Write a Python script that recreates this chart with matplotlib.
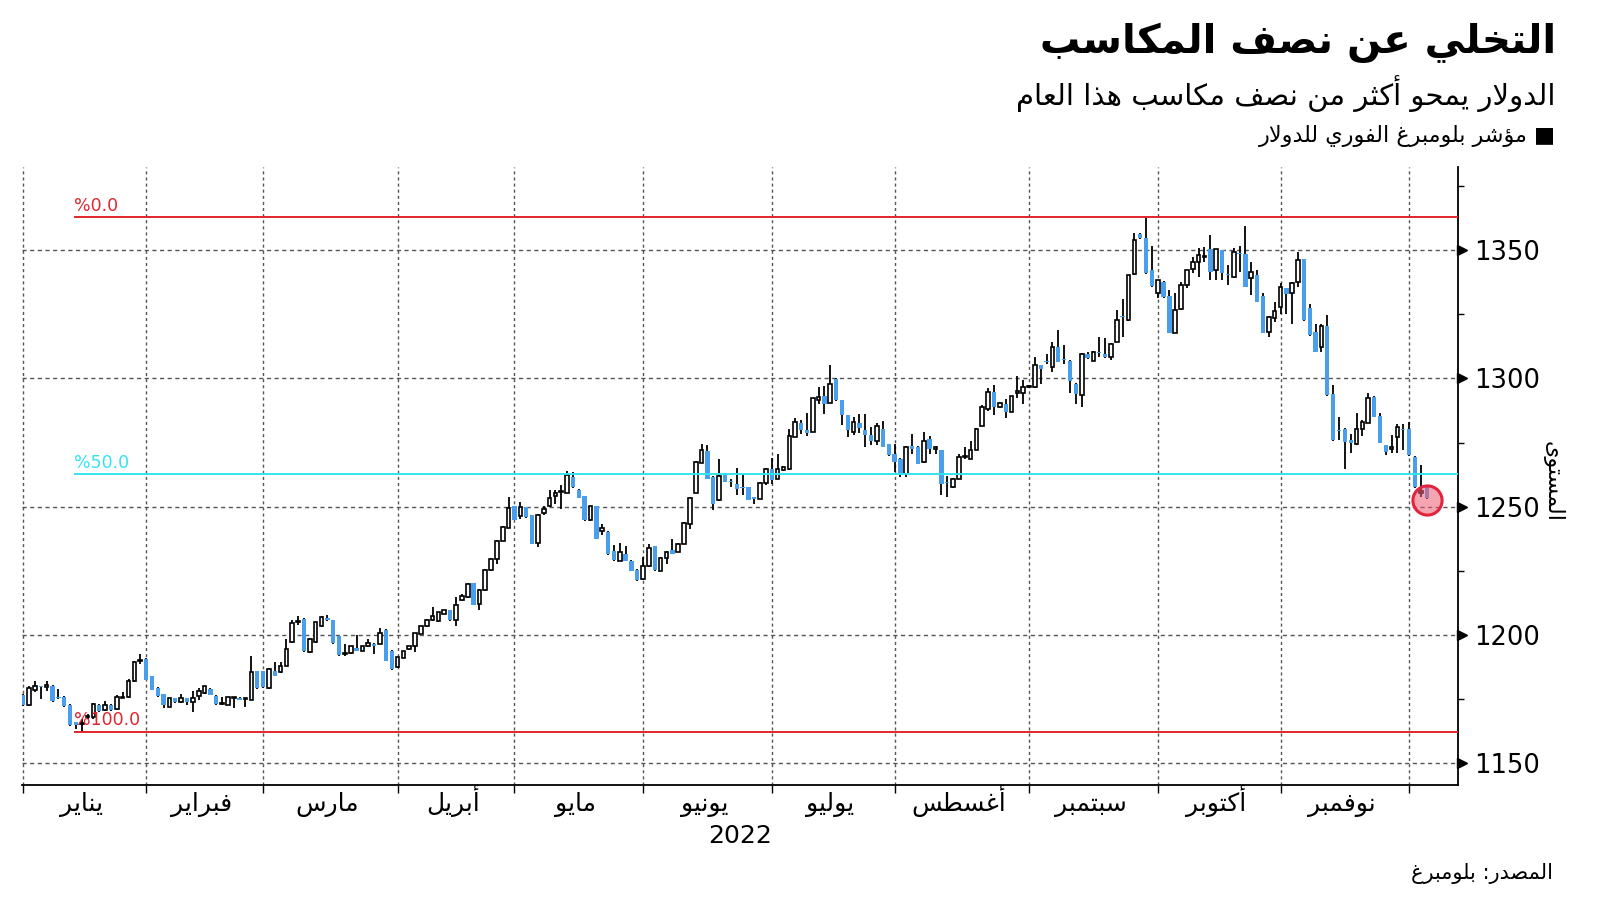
import numpy as np
import pandas as pd
import matplotlib
matplotlib.use("Agg")
import matplotlib.pyplot as plt
import matplotlib.transforms as mtransforms

# ---------------- Arabic shaping helper (matplotlib has no shaping) ----------------
FORMS = {
    'ء': ('\uFE80', None, None, None),
    'آ': ('\uFE81', '\uFE82', None, None),
    'أ': ('\uFE83', '\uFE84', None, None),
    'ؤ': ('\uFE85', '\uFE86', None, None),
    'إ': ('\uFE87', '\uFE88', None, None),
    'ئ': ('\uFE89', '\uFE8A', '\uFE8B', '\uFE8C'),
    'ا': ('\uFE8D', '\uFE8E', None, None),
    'ب': ('\uFE8F', '\uFE90', '\uFE91', '\uFE92'),
    'ة': ('\uFE93', '\uFE94', None, None),
    'ت': ('\uFE95', '\uFE96', '\uFE97', '\uFE98'),
    'ث': ('\uFE99', '\uFE9A', '\uFE9B', '\uFE9C'),
    'ج': ('\uFE9D', '\uFE9E', '\uFE9F', '\uFEA0'),
    'ح': ('\uFEA1', '\uFEA2', '\uFEA3', '\uFEA4'),
    'خ': ('\uFEA5', '\uFEA6', '\uFEA7', '\uFEA8'),
    'د': ('\uFEA9', '\uFEAA', None, None),
    'ذ': ('\uFEAB', '\uFEAC', None, None),
    'ر': ('\uFEAD', '\uFEAE', None, None),
    'ز': ('\uFEAF', '\uFEB0', None, None),
    'س': ('\uFEB1', '\uFEB2', '\uFEB3', '\uFEB4'),
    'ش': ('\uFEB5', '\uFEB6', '\uFEB7', '\uFEB8'),
    'ص': ('\uFEB9', '\uFEBA', '\uFEBB', '\uFEBC'),
    'ض': ('\uFEBD', '\uFEBE', '\uFEBF', '\uFEC0'),
    'ط': ('\uFEC1', '\uFEC2', '\uFEC3', '\uFEC4'),
    'ظ': ('\uFEC5', '\uFEC6', '\uFEC7', '\uFEC8'),
    'ع': ('\uFEC9', '\uFECA', '\uFECB', '\uFECC'),
    'غ': ('\uFECD', '\uFECE', '\uFECF', '\uFED0'),
    'ف': ('\uFED1', '\uFED2', '\uFED3', '\uFED4'),
    'ق': ('\uFED5', '\uFED6', '\uFED7', '\uFED8'),
    'ك': ('\uFED9', '\uFEDA', '\uFEDB', '\uFEDC'),
    'ل': ('\uFEDD', '\uFEDE', '\uFEDF', '\uFEE0'),
    'م': ('\uFEE1', '\uFEE2', '\uFEE3', '\uFEE4'),
    'ن': ('\uFEE5', '\uFEE6', '\uFEE7', '\uFEE8'),
    'ه': ('\uFEE9', '\uFEEA', '\uFEEB', '\uFEEC'),
    'و': ('\uFEED', '\uFEEE', None, None),
    'ى': ('\uFEEF', '\uFEF0', None, None),
    'ي': ('\uFEF1', '\uFEF2', '\uFEF3', '\uFEF4'),
}
LAM_ALEF = {'ا': ('\uFEFB', '\uFEFC'), 'أ': ('\uFEF7', '\uFEF8'),
            'إ': ('\uFEF9', '\uFEFA'), 'آ': ('\uFEF5', '\uFEF6')}


def ar(text):
    chars = list(text)
    toks = []
    i = 0
    while i < len(chars):
        ch = chars[i]
        if ch == 'ل' and i + 1 < len(chars) and chars[i + 1] in LAM_ALEF:
            toks.append(('LA', chars[i + 1]))
            i += 2
        else:
            toks.append(('C', ch))
            i += 1

    def jn(t):
        if t[0] == 'LA':
            return False
        f = FORMS.get(t[1])
        return f is not None and f[2] is not None

    def jp(t):
        if t[0] == 'LA':
            return True
        f = FORMS.get(t[1])
        return f is not None and f[1] is not None

    out = []
    for k, t in enumerate(toks):
        prev = toks[k - 1] if k > 0 else None
        nxt = toks[k + 1] if k + 1 < len(toks) else None
        cp = prev is not None and jn(prev) and jp(t)
        cn = nxt is not None and jn(t) and jp(nxt)
        if t[0] == 'LA':
            out.append(LAM_ALEF[t[1]][1 if cp else 0])
        elif t[1] in FORMS:
            f = FORMS[t[1]]
            if cp and cn:
                out.append(f[3])
            elif cp:
                out.append(f[1])
            elif cn:
                out.append(f[2])
            else:
                out.append(f[0])
        else:
            out.append(t[1])
    return ''.join(reversed(out))


# ---------------- Data ----------------
dates = pd.bdate_range("2022-01-03", "2022-12-06")
dates = dates[dates != pd.Timestamp("2022-04-15")]

opens = [1176.7, 1172.8, 1178.7, 1180.0, 1179.7, 1180.3, 1175.8, 1176.0, 1172.8, 1166.0,
         1165.3, 1168.0, 1168.0, 1172.6, 1171.0, 1172.6, 1171.3, 1175.6, 1175.8, 1182.0,
         1190.0, 1190.8, 1183.9, 1179.4, 1177.0, 1172.0, 1175.4, 1173.9, 1175.4, 1173.9,
         1176.4, 1177.4, 1179.1, 1176.4, 1173.2, 1172.8, 1175.6, 1175.6, 1175.1, 1174.8,
         1185.9, 1185.9, 1179.4, 1186.2, 1185.5, 1188.1, 1197.3, 1205.1, 1206.4, 1193.3,
         1197.3, 1203.4, 1206.6, 1205.7, 1199.5, 1192.7, 1193.0, 1194.9, 1194.0, 1195.7,
         1196.6, 1196.6, 1202.1, 1194.0, 1187.5, 1191.1, 1194.4, 1195.7, 1200.5, 1203.4,
         1205.7, 1205.4, 1208.3, 1209.6, 1205.7, 1213.5, 1214.8, 1220.3, 1212.2, 1217.4,
         1225.2, 1229.8, 1236.7, 1241.9, 1250.2, 1246.3, 1249.9, 1246.7, 1235.8, 1247.6,
         1250.2, 1254.1, 1255.8, 1255.4, 1261.6, 1256.7, 1254.1, 1244.7, 1250.2, 1240.6,
         1240.2, 1232.8, 1228.9, 1231.7, 1228.9, 1225.5, 1222.0, 1226.8, 1234.6, 1225.0,
         1230.2, 1233.3, 1232.4, 1235.6, 1243.4, 1255.4, 1267.1, 1271.8, 1261.6, 1252.5,
         1262.9, 1259.8, 1259.0, 1257.5, 1257.7, 1253.8, 1253.2, 1259.3, 1264.9, 1260.9,
         1264.2, 1264.6, 1277.2, 1282.7, 1280.1, 1279.2, 1291.5, 1293.1, 1290.5, 1299.6,
         1291.5, 1285.7, 1279.2, 1282.7, 1279.8, 1277.9, 1275.7, 1280.5, 1274.4, 1270.5,
         1268.8, 1262.9, 1273.6, 1273.3, 1267.4, 1276.6, 1272.7, 1272.0, 1259.7, 1257.7,
         1261.0, 1269.3, 1268.8, 1272.3, 1281.5, 1288.0, 1294.8, 1288.9, 1290.2, 1287.0,
         1294.5, 1294.4, 1296.7, 1296.5, 1305.2, 1306.8, 1304.5, 1312.3, 1307.1, 1306.9,
         1298.0, 1293.5, 1309.7, 1306.9, 1310.2, 1309.7, 1308.4, 1314.3, 1324.2, 1322.7,
         1340.7, 1356.3, 1354.6, 1342.2, 1333.1, 1337.7, 1332.1, 1317.8, 1326.9, 1336.4,
         1342.5, 1345.5, 1347.3, 1350.3, 1342.2, 1350.0, 1340.3, 1339.6, 1349.0, 1348.3,
         1339.0, 1340.3, 1332.1, 1318.2, 1323.7, 1327.7, 1335.1, 1333.4, 1337.7, 1346.4,
         1327.3, 1318.2, 1312.3, 1320.4, 1294.1, 1279.9, 1280.5, 1275.9, 1274.6, 1280.5,
         1282.7, 1292.8, 1285.3, 1274.0, 1272.6, 1277.0, 1280.4, 1280.5, 1269.4, 1255.4,
         1257.6]
highs = [1177.0, 1180.0, 1182.3, 1180.3, 1182.3, 1180.5, 1179.0, 1176.3, 1173.0, 1166.2,
         1167.3, 1169.3, 1173.5, 1173.0, 1174.3, 1173.0, 1176.5, 1177.8, 1183.0, 1190.0,
         1192.7, 1191.0, 1184.0, 1179.6, 1177.2, 1175.6, 1175.6, 1177.1, 1175.6, 1178.4,
         1179.4, 1180.3, 1179.3, 1176.6, 1175.8, 1176.0, 1175.9, 1175.8, 1175.4, 1192.0,
         1186.1, 1186.2, 1187.0, 1189.7, 1189.7, 1198.5, 1205.7, 1207.3, 1206.6, 1198.7,
         1205.3, 1207.5, 1207.7, 1205.9, 1199.7, 1196.6, 1195.9, 1200.2, 1195.9, 1198.5,
         1196.8, 1202.7, 1202.3, 1194.2, 1191.6, 1193.9, 1195.9, 1201.0, 1203.6, 1206.2,
         1210.9, 1209.2, 1209.8, 1209.8, 1214.8, 1216.1, 1220.2, 1220.5, 1217.9, 1225.7,
         1229.9, 1237.0, 1242.4, 1253.8, 1250.4, 1251.9, 1250.1, 1246.9, 1247.1, 1250.2,
         1256.4, 1256.4, 1258.4, 1264.0, 1263.6, 1256.9, 1254.3, 1250.4, 1250.4, 1243.2,
         1240.4, 1235.0, 1236.0, 1234.6, 1229.1, 1225.7, 1230.4, 1235.6, 1234.8, 1230.4,
         1232.6, 1237.6, 1235.8, 1243.9, 1253.8, 1267.7, 1274.4, 1274.0, 1261.8, 1268.8,
         1263.1, 1261.0, 1265.3, 1262.3, 1257.9, 1254.0, 1259.5, 1265.1, 1269.1, 1270.5,
         1265.7, 1280.5, 1284.4, 1283.7, 1286.6, 1292.4, 1296.5, 1297.0, 1305.2, 1300.1,
         1291.7, 1285.9, 1285.0, 1286.1, 1286.1, 1281.1, 1282.7, 1283.5, 1274.6, 1274.4,
         1269.0, 1273.5, 1278.5, 1273.5, 1279.2, 1277.5, 1273.5, 1272.2, 1261.9, 1261.2,
         1270.7, 1273.3, 1275.7, 1280.7, 1289.6, 1296.1, 1297.4, 1291.0, 1291.8, 1293.3,
         1301.0, 1299.3, 1297.5, 1308.4, 1305.4, 1309.7, 1314.3, 1318.8, 1313.0, 1307.1,
         1298.2, 1309.9, 1310.5, 1310.6, 1316.0, 1315.6, 1313.8, 1326.6, 1330.8, 1340.5,
         1356.5, 1356.5, 1362.8, 1351.6, 1338.5, 1337.9, 1334.4, 1333.1, 1337.7, 1342.4,
         1347.4, 1350.7, 1351.3, 1355.9, 1350.5, 1350.2, 1344.2, 1350.7, 1351.5, 1359.4,
         1345.5, 1342.2, 1333.4, 1324.2, 1329.9, 1337.0, 1335.3, 1337.5, 1349.4, 1346.6,
         1329.2, 1321.4, 1321.4, 1324.7, 1297.4, 1285.0, 1280.7, 1278.5, 1286.6, 1283.7,
         1294.4, 1293.0, 1286.6, 1274.2, 1277.9, 1282.4, 1282.4, 1283.1, 1269.6, 1266.2,
         1257.8]
lows = [1172.5, 1172.5, 1177.8, 1175.2, 1178.4, 1174.0, 1175.2, 1172.0, 1164.5, 1163.5,
        1162.4, 1167.3, 1167.5, 1170.0, 1170.5, 1170.5, 1171.0, 1175.4, 1175.5, 1181.8,
        1188.8, 1182.5, 1178.5, 1176.0, 1171.6, 1171.8, 1173.7, 1173.7, 1172.6, 1170.2,
        1174.8, 1177.1, 1176.5, 1172.8, 1172.6, 1172.6, 1171.6, 1174.6, 1171.9, 1174.6,
        1179.2, 1179.5, 1179.2, 1184.0, 1185.3, 1187.9, 1197.1, 1204.1, 1193.6, 1193.1,
        1197.1, 1203.2, 1205.5, 1196.7, 1191.9, 1191.7, 1192.8, 1193.8, 1193.8, 1195.5,
        1192.7, 1196.4, 1189.9, 1186.5, 1187.3, 1190.9, 1194.2, 1193.4, 1200.3, 1203.2,
        1205.5, 1205.2, 1208.1, 1205.5, 1203.4, 1213.3, 1214.6, 1211.6, 1209.9, 1217.2,
        1225.0, 1227.8, 1236.5, 1241.7, 1244.8, 1245.4, 1245.8, 1235.4, 1234.3, 1246.7,
        1249.9, 1251.2, 1249.3, 1255.2, 1257.5, 1253.4, 1244.5, 1244.5, 1237.4, 1238.9,
        1231.3, 1228.9, 1228.7, 1228.7, 1224.8, 1221.2, 1221.6, 1226.6, 1225.0, 1224.8,
        1227.8, 1231.5, 1232.2, 1235.4, 1241.5, 1255.2, 1266.9, 1260.8, 1248.9, 1252.3,
        1259.5, 1257.7, 1254.5, 1254.5, 1252.6, 1251.0, 1253.0, 1258.5, 1259.0, 1260.7,
        1263.8, 1264.4, 1277.0, 1278.5, 1277.5, 1279.0, 1290.0, 1286.3, 1290.3, 1291.3,
        1281.8, 1277.0, 1277.9, 1278.8, 1273.3, 1274.0, 1274.0, 1273.1, 1269.9, 1263.6,
        1261.6, 1261.6, 1270.7, 1266.6, 1267.2, 1270.7, 1270.7, 1254.5, 1253.8, 1257.5,
        1260.8, 1268.8, 1268.6, 1272.1, 1281.3, 1287.4, 1285.7, 1288.5, 1284.4, 1286.8,
        1292.2, 1290.2, 1296.2, 1296.3, 1298.0, 1305.6, 1302.6, 1306.3, 1305.8, 1294.4,
        1290.2, 1288.9, 1307.6, 1306.7, 1308.4, 1307.8, 1307.1, 1314.1, 1316.2, 1322.5,
        1340.5, 1354.4, 1340.7, 1335.8, 1331.2, 1331.4, 1317.6, 1317.6, 1326.7, 1335.1,
        1340.9, 1339.6, 1345.5, 1338.3, 1338.3, 1338.3, 1336.4, 1339.0, 1341.6, 1335.5,
        1332.5, 1329.7, 1317.6, 1316.2, 1322.1, 1325.3, 1325.3, 1321.4, 1335.7, 1322.5,
        1316.7, 1310.2, 1310.4, 1293.3, 1275.7, 1275.9, 1264.9, 1271.0, 1274.0, 1277.5,
        1282.5, 1284.8, 1274.7, 1270.2, 1271.0, 1271.0, 1272.0, 1269.9, 1257.5, 1253.8,
        1253.1]
closes = [1172.8, 1179.4, 1180.0, 1179.6, 1180.7, 1174.3, 1175.6, 1172.2, 1164.8, 1164.8,
          1165.5, 1168.2, 1173.0, 1170.6, 1172.8, 1170.9, 1175.8, 1175.8, 1182.3, 1189.7,
          1190.3, 1182.7, 1178.7, 1176.1, 1172.6, 1175.4, 1173.9, 1175.4, 1173.9, 1175.4,
          1178.1, 1180.0, 1176.7, 1173.0, 1173.3, 1175.8, 1175.7, 1174.8, 1175.2, 1185.5,
          1179.4, 1179.7, 1186.8, 1184.2, 1188.1, 1194.6, 1204.7, 1205.2, 1193.8, 1198.5,
          1205.1, 1207.0, 1205.7, 1196.9, 1192.1, 1192.8, 1195.7, 1194.0, 1195.7, 1197.0,
          1195.6, 1200.8, 1190.1, 1186.9, 1191.4, 1193.7, 1195.7, 1200.8, 1203.4, 1206.0,
          1207.3, 1209.0, 1209.6, 1205.7, 1211.6, 1215.1, 1220.0, 1211.8, 1217.7, 1225.5,
          1229.5, 1236.7, 1242.1, 1249.7, 1245.0, 1249.9, 1246.0, 1235.6, 1246.9, 1249.3,
          1253.6, 1255.4, 1255.9, 1262.3, 1257.7, 1253.6, 1244.7, 1250.2, 1237.6, 1241.6,
          1231.5, 1229.1, 1232.4, 1228.9, 1225.0, 1221.6, 1226.8, 1234.1, 1225.2, 1230.2,
          1232.4, 1231.7, 1235.6, 1243.7, 1253.6, 1267.5, 1272.3, 1261.0, 1251.2, 1261.9,
          1259.7, 1259.6, 1257.1, 1257.4, 1252.8, 1253.2, 1259.3, 1264.9, 1260.3, 1264.9,
          1265.5, 1277.5, 1283.1, 1279.8, 1278.8, 1292.2, 1292.6, 1290.0, 1298.0, 1291.5,
          1285.7, 1279.8, 1283.1, 1280.7, 1277.9, 1275.7, 1281.4, 1273.3, 1270.1, 1267.5,
          1263.2, 1273.3, 1272.7, 1266.8, 1275.7, 1272.7, 1272.8, 1259.0, 1259.2, 1261.0,
          1269.4, 1269.5, 1272.3, 1280.5, 1289.0, 1294.8, 1288.9, 1290.5, 1287.0, 1293.1,
          1294.6, 1296.7, 1296.8, 1305.2, 1303.5, 1306.3, 1312.3, 1306.5, 1307.0, 1299.1,
          1293.9, 1309.7, 1307.8, 1310.4, 1309.8, 1308.4, 1313.6, 1322.7, 1323.8, 1340.3,
          1353.9, 1354.6, 1340.9, 1336.0, 1338.3, 1331.6, 1317.8, 1326.6, 1336.4, 1342.2,
          1345.5, 1348.1, 1347.4, 1341.6, 1350.3, 1340.9, 1340.2, 1349.4, 1348.5, 1335.7,
          1341.6, 1329.9, 1317.8, 1324.0, 1326.3, 1335.7, 1332.9, 1337.3, 1346.1, 1322.7,
          1316.9, 1310.4, 1320.4, 1293.5, 1275.9, 1279.5, 1275.3, 1274.9, 1280.5, 1283.1,
          1292.2, 1285.0, 1274.9, 1271.4, 1273.3, 1281.1, 1280.0, 1270.1, 1257.7, 1256.0,
          1253.3]

month_names = ["يناير", "فبراير", "مارس", "أبريل", "مايو", "يونيو",
               "يوليو", "أغسطس", "سبتمبر", "أكتوبر", "نوفمبر"]
y_ticks = [1150, 1200, 1250, 1300, 1350]
fib_pcts = [0.0, 50.0, 100.0]

title = "التخلي عن نصف المكاسب"
subtitle = "الدولار يمحو أكثر من نصف مكاسب هذا العام"
legend_label = "مؤشر بلومبرغ الفوري للدولار"
y_label = "المستوى"
source = "المصدر: بلومبرغ"
year_label = "2022"

# ---------------- Style ----------------
plt.rcParams['font.family'] = ['DejaVu Sans']
BLUE = "#4A9FEC"
RED = "#E0262E"
CYAN = "#35E3F2"
GRID = "#555555"

W, H = 1600, 901
fig = plt.figure(figsize=(W / 100, H / 100), dpi=100)
AX_TOP, AX_BOT = 166.7, 784.5
ax = fig.add_axes([22.4 / W, 1 - AX_BOT / H, (1457.7 - 22.4) / W, (AX_BOT - AX_TOP) / H])

o = np.array(opens)
h = np.array(highs)
l = np.array(lows)
c = np.array(closes)
n = len(c)
x = np.arange(n)

# gridlines
month_start = [i for i in range(n) if i == 0 or dates[i].month != dates[i - 1].month]
for ms in month_start:
    ax.axvline(ms, color=GRID, lw=1.0, ls=(0, (2.2, 2.2)), zorder=0)
for yt in y_ticks:
    ax.axhline(yt, color=GRID, lw=1.0, ls=(0, (3, 2.5)), zorder=0)

# candles
up = c >= o
ax.vlines(x, l, h, color="black", lw=1.3, zorder=2)
body_lo = np.minimum(o, c)
body_h = np.maximum(np.abs(c - o), 0.45)
ax.bar(x[up], body_h[up], bottom=body_lo[up], width=0.62, color="white",
       edgecolor="black", linewidth=1.2, zorder=3)
ax.bar(x[~up], body_h[~up], bottom=body_lo[~up], width=0.74, color=BLUE,
       edgecolor="none", linewidth=0, zorder=3)

# Fibonacci retracement lines
hi, lo = h.max(), l.min()
FIB_X0 = 8.75
for p in fib_pcts:
    lvl = hi - (hi - lo) * p / 100.0
    col = CYAN if p == 50.0 else RED
    ax.plot([FIB_X0, 245.3], [lvl, lvl], color=col, lw=1.4, zorder=4, solid_capstyle='butt')
    ax.text(FIB_X0, lvl + 1.0, "%" + f"{p:.1f}", color=col, fontsize=12.5,
            ha="left", va="bottom", zorder=5)

# last point marker
ax.plot([x[-1]], [c[-1] - 0.6], marker="o", markersize=21, markerfacecolor=(0.93, 0.36, 0.45, 0.55),
        markeredgecolor="#E3243E", markeredgewidth=2.2, zorder=6, clip_on=False)

ax.set_xlim(-0.15, 245.3)
ax.set_ylim(1141.8, 1382.5)

# spines
for s in ["top", "left"]:
    ax.spines[s].set_visible(False)
ax.spines["bottom"].set_linewidth(1.3)
ax.spines["right"].set_linewidth(1.3)

# x ticks: month starts (marks); month names centred between them, on a common baseline
ax.set_xticks(month_start)
ax.set_xticklabels([])
ax.tick_params(axis="x", which="major", length=6, width=1.0, direction="out", color="black")
xlab_tr = mtransforms.blended_transform_factory(ax.transData, ax.transAxes)
base_y = (AX_BOT - 811) / (AX_BOT - AX_TOP)
for k, m in enumerate(month_names):
    cx = (month_start[k] + month_start[k + 1]) / 2 - 0.5
    ax.text(cx, base_y, ar(m), transform=xlab_tr, ha="center", va="baseline",
            fontsize=18, clip_on=False)

# y ticks on the right
ax.yaxis.tick_right()
ax.set_yticks(y_ticks)
ax.set_yticklabels([str(v) for v in y_ticks], fontsize=18.5)
ax.tick_params(axis="y", which="major", length=0, pad=12)
ax.set_yticks([v + 25 for v in y_ticks], minor=True)
ax.tick_params(axis="y", which="minor", length=4.5, width=1.0, direction="out")
tri_tr = mtransforms.offset_copy(ax.get_yaxis_transform(), fig=fig, x=3.2, units="points")
ax.plot([1.0] * len(y_ticks), y_ticks, ls="none", marker=">", markersize=6.5, color="black",
        transform=tri_tr, clip_on=False, zorder=7)

# texts
fig.text(1556 / W, 1 - 43 / H, ar(title), ha="right", va="center", fontsize=29,
         fontweight="bold")
fig.text(1556 / W, 1 - 94 / H, ar(subtitle), ha="right", va="center", fontsize=21)
fig.text(1556 / W, 1 - 136 / H, ar(legend_label) + " \u25A0", ha="right", va="center",
         fontsize=16)
fig.text(1553 / W, 1 - 873 / H, ar(source), ha="right", va="center", fontsize=15)
fig.text(1553 / W, 1 - 482 / H, ar(y_label), ha="center", va="center", fontsize=16,
         rotation=270)
fig.text((22.4 + 1457.7) / 2 / W, 1 - 836 / H, year_label, ha="center", va="center",
         fontsize=18)

fig.savefig("out.png", dpi=100, facecolor="white")
